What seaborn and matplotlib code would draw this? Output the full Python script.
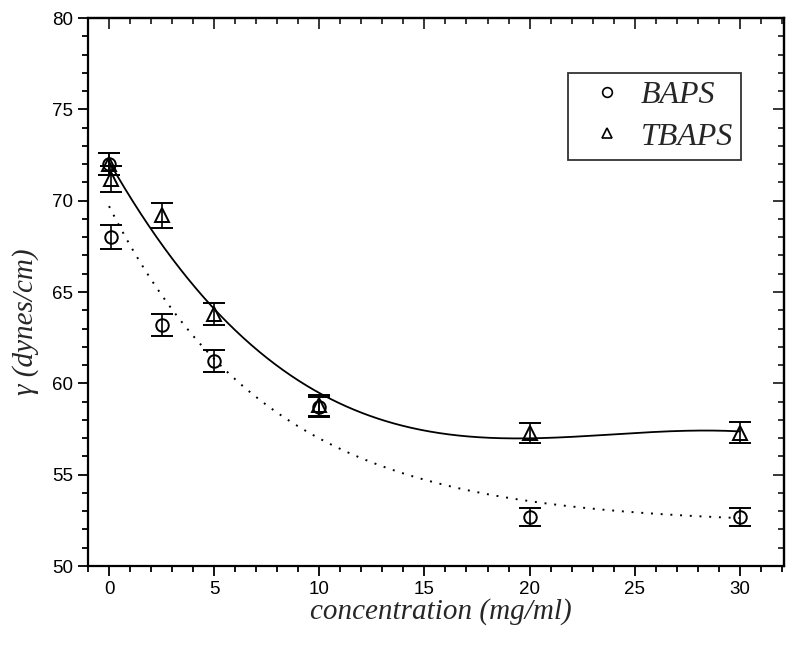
import numpy as np
import pandas as pd
import seaborn as sns
import matplotlib
matplotlib.use("Agg")
import matplotlib.pyplot as plt
from matplotlib.lines import Line2D
from matplotlib.ticker import MultipleLocator

# ---- data ----
conc = [0, 0.1, 2.5, 5, 10, 20, 30]
baps = [72.0, 68.0, 63.2, 61.2, 58.7, 52.7, 52.7]
baps_err = [0.6, 0.65, 0.62, 0.6, 0.57, 0.5, 0.5]
tbaps = [72.0, 71.2, 69.2, 63.8, 58.8, 57.3, 57.3]
tbaps_err = [0.6, 0.7, 0.68, 0.62, 0.58, 0.55, 0.56]
series_names = ["BAPS", "TBAPS"]
xticks = [0, 5, 10, 15, 20, 25, 30]
yticks = [50, 55, 60, 65, 70, 75, 80]

sns.set_theme(style="ticks")
plt.rcParams["font.family"] = ["Liberation Sans", "DejaVu Sans"]

fig = plt.figure(figsize=(7.9, 6.46), dpi=100)
ax = fig.add_axes([88 / 790, 80 / 646, 696 / 790, 548 / 646])

x = np.asarray(conc, float)
yb = np.asarray(baps, float)
yt = np.asarray(tbaps, float)

# ---- fitted curves ----
xs = np.linspace(0, 30, 400)
# cubic polynomial fit for TBAPS
pt = np.polyfit(x, yt, 3)
fit_t = np.polyval(pt, xs)
# exponential decay fit for BAPS
best = None
for tau in np.linspace(1, 30, 2901):
    M = np.column_stack([np.ones_like(x), np.exp(-x / tau)])
    c, *_ = np.linalg.lstsq(M, yb, rcond=None)
    sse = np.sum((M @ c - yb) ** 2)
    if best is None or sse < best[0]:
        best = (sse, tau, c)
_, tau, cb = best
fit_b = cb[0] + cb[1] * np.exp(-xs / tau)

curves = pd.DataFrame({"x": np.concatenate([xs, xs]),
                       "y": np.concatenate([fit_b, fit_t]),
                       "s": [series_names[0]] * len(xs) + [series_names[1]] * len(xs)})
sns.lineplot(data=curves[curves.s == "TBAPS"], x="x", y="y", ax=ax,
             color="black", lw=1.3, legend=False)
sns.lineplot(data=curves[curves.s == "BAPS"], x="x", y="y", ax=ax,
             color="black", lw=1.4, ls=(0, (1, 4)), legend=False)

# ---- data points with error bars ----
ax.errorbar(x, yb, yerr=baps_err, fmt="o", ms=9, mfc="none", mec="black",
            mew=1.4, ecolor="black", elinewidth=1.2, capsize=8, capthick=1.5)
ax.errorbar(x, yt, yerr=tbaps_err, fmt="^", ms=10, mfc="none", mec="black",
            mew=1.4, ecolor="black", elinewidth=1.2, capsize=8, capthick=1.5)

# ---- axes ----
ax.set_xlim(-1, 32.1)
ax.set_ylim(50, 80)
ax.set_xticks(xticks)
ax.set_yticks(yticks)
ax.xaxis.set_minor_locator(MultipleLocator(1))
ax.yaxis.set_minor_locator(MultipleLocator(1))
ax.tick_params(which="both", direction="out", width=1.3, colors="black",
               labelsize=13.5, pad=4)
ax.tick_params(which="major", length=7)
ax.tick_params(which="minor", length=4)
for sp in ax.spines.values():
    sp.set_visible(True)
    sp.set_linewidth(1.6)
    sp.set_color("black")

top = ax.secondary_xaxis("top")
top.set_xticks(xticks)
top.xaxis.set_minor_locator(MultipleLocator(1))
top.tick_params(which="both", direction="in", labeltop=False, width=1.3)
top.tick_params(which="major", length=8)
top.tick_params(which="minor", length=4)
top.spines["top"].set_linewidth(1.6)
right = ax.secondary_yaxis("right")
right.set_yticks(yticks)
right.yaxis.set_minor_locator(MultipleLocator(1))
right.tick_params(which="both", direction="in", labelright=False, width=1.3)
right.tick_params(which="major", length=8)
right.tick_params(which="minor", length=4)
right.spines["right"].set_linewidth(1.6)

serif_it = dict(family=["Liberation Serif", "DejaVu Serif"], style="italic", size=21)
ax.set_xlabel("concentration (mg/ml)", **serif_it)
ax.set_ylabel("γ (dynes/cm)", **serif_it)
ax.xaxis.set_label_coords(0.507, -0.058)
ax.yaxis.set_label_coords(-0.07, 0.445)

# ---- legend ----
handles = [Line2D([], [], ls="none", marker="o", ms=7, mfc="none", mec="black", mew=1.2),
           Line2D([], [], ls="none", marker="^", ms=7, mfc="none", mec="black", mew=1.2)]
leg = ax.legend(handles, series_names, loc="upper left", bbox_to_anchor=(0.69, 0.90),
                frameon=True, fancybox=False, edgecolor="black",
                prop=dict(family=["Liberation Serif", "DejaVu Serif"], style="italic", size=23),
                handletextpad=0.12, borderpad=0.25, labelspacing=0.38, handlelength=1.9,
                borderaxespad=0)
leg.get_frame().set_linewidth(1.3)

fig.savefig("out.png", dpi=100)
